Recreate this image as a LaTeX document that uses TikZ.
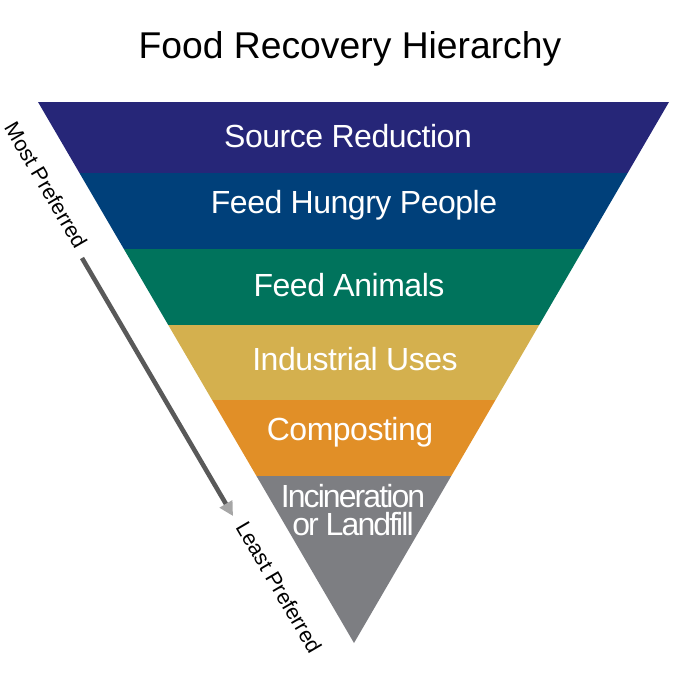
\documentclass[tikz,border=0pt]{standalone}
\usepackage{fontspec}
\setmainfont{Liberation Sans}
\newfontfamily\bandfont[LetterSpace=-1.5]{Liberation Sans}
\newfontfamily\incfont[LetterSpace=-6]{Liberation Sans}
\usetikzlibrary{arrows.meta}

\definecolor{srcblue}{RGB}{38,38,120}
\definecolor{feednavy}{RGB}{0,64,122}
\definecolor{animgreen}{RGB}{0,115,92}
\definecolor{indgold}{RGB}{212,176,78}
\definecolor{compor}{RGB}{225,143,39}
\definecolor{incgray}{RGB}{125,126,130}

\begin{document}
\begin{tikzpicture}[x=0.01cm, y=-0.01cm,
  every node/.style={inner sep=0pt, align=center},
  level/.style={text=white, font=\bandfont\fontsize{9.1}{8}\selectfont},
  side/.style={text=black, font=\fontsize{6.1}{7}\selectfont, rotate=-59.7}]

\useasboundingbox (0,0) rectangle (700,700);

\coordinate (tl) at (38,102);
\coordinate (tr) at (669,102);
\coordinate (apex) at (354,643);

% the bands, cut to the triangle
\begin{scope}
\clip (tl) -- (tr) -- (apex) -- cycle;
\fill[incgray] (0,476) rectangle (700,700);
\fill[compor] (0,400) rectangle (700,476);
\fill[indgold] (0,325) rectangle (700,400);
\fill[animgreen] (0,249) rectangle (700,325);
\fill[feednavy] (0,173) rectangle (700,249);
\fill[srcblue] (0,100) rectangle (700,173);
\end{scope}

\node[font=\fontsize{10.6}{12}\selectfont] (title) at (350,49) {Food Recovery Hierarchy};

\node[level] (src) at (348,136) {Source Reduction};
\node[level] (feed) at (354,205) {Feed Hungry People};
\node[level] (anim) at (349,285) {Feed Animals};
\node[level] (ind) at (355,359) {Industrial Uses};
\node[level] (comp) at (350,432) {Composting};
\node[level, font=\incfont\fontsize{9.1}{8}\selectfont] (inc) at (353,510) {Incineration\\or Landfill};

\node[side] (most) at (46,185) {Most Preferred};
\node[side] (least) at (279,587) {Least Preferred};

\coordinate (astart) at (82,258);
\coordinate (aend) at (233,516);
\draw[line width=1.3pt, black!65, -{Triangle[length=4pt, width=4pt, color=gray!70]}] (astart) -- (aend);

\end{tikzpicture}
\end{document}
